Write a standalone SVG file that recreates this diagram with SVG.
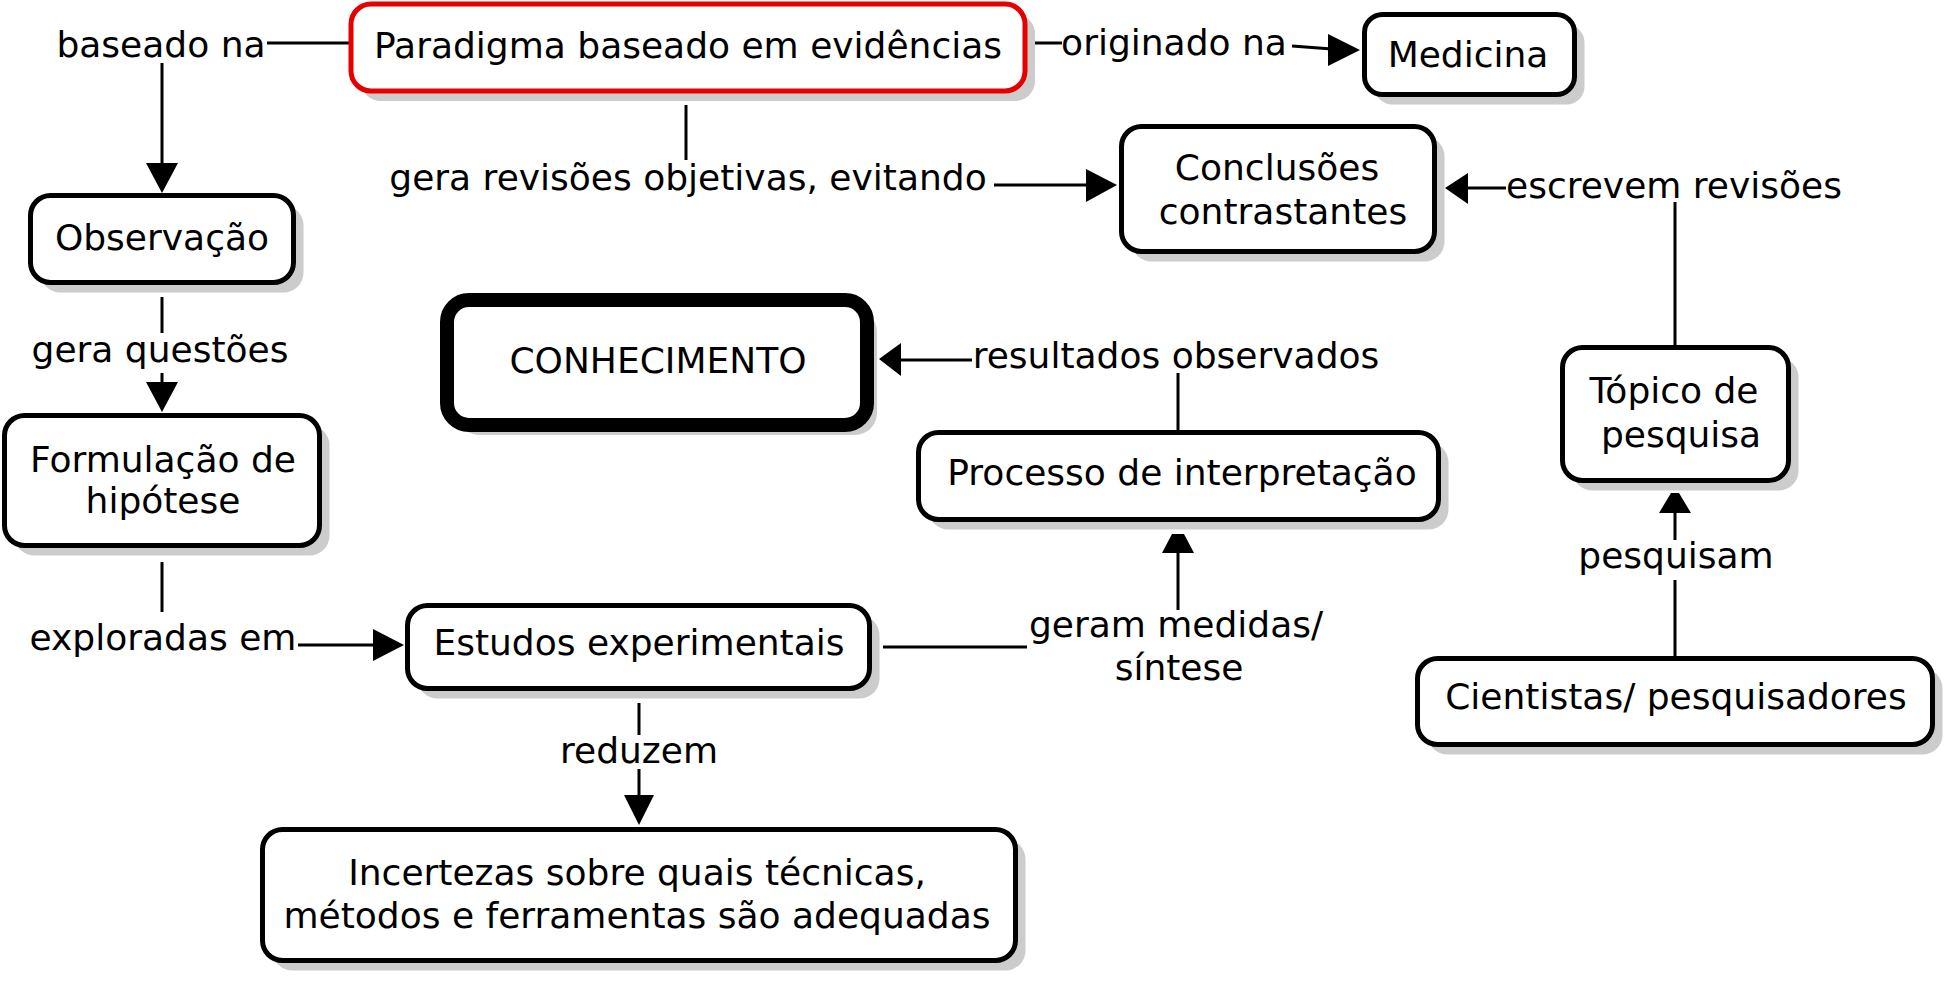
<svg xmlns="http://www.w3.org/2000/svg" width="1955" height="983" viewBox="0 0 1955 983">
<style>
text{font-family:"DejaVu Sans","Verdana","Liberation Sans",sans-serif;font-size:36px;fill:#000;text-anchor:middle}
.box{fill:#fff;stroke:#000;stroke-width:5}
.sh{fill:#cccccc;stroke:none}
.ln{stroke:#000;stroke-width:3;fill:none}
.ah{fill:#000;stroke:none}
</style>
<rect width="1955" height="983" fill="#fff"/>
<g id="connectors">
<line class="ln" x1="267" y1="43" x2="349" y2="43"/>
<line class="ln" x1="162" y1="63" x2="162" y2="165"/>
<polygon class="ah" points="146,163 178,163 162,193"/>
<line class="ln" x1="1029" y1="43" x2="1062" y2="43"/>
<line class="ln" x1="1292" y1="46" x2="1332" y2="49"/>
<polygon class="ah" points="1328,34 1328,66 1360,50"/>
<line class="ln" x1="686" y1="105" x2="686" y2="160"/>
<line class="ln" x1="994" y1="185" x2="1090" y2="185"/>
<polygon class="ah" points="1086,169 1086,202 1117,185"/>
<line class="ln" x1="162" y1="297" x2="162" y2="333"/>
<line class="ln" x1="162" y1="373" x2="162" y2="384"/>
<polygon class="ah" points="146,382 178,382 162,412"/>
<line class="ln" x1="162" y1="562" x2="162" y2="612"/>
<line class="ln" x1="298" y1="645" x2="376" y2="645"/>
<polygon class="ah" points="373,629 373,661 404,645"/>
<line class="ln" x1="883" y1="647" x2="1027" y2="647"/>
<line class="ln" x1="1178" y1="551" x2="1178" y2="610"/>
<polygon class="ah" points="1172,534 1184,534 1194,553 1162,553"/>
<line class="ln" x1="1178" y1="373" x2="1178" y2="432"/>
<line class="ln" x1="899" y1="360" x2="972" y2="360"/>
<polygon class="ah" points="879,359 901,343 901,376"/>
<line class="ln" x1="639" y1="703" x2="639" y2="735"/>
<line class="ln" x1="639" y1="769" x2="639" y2="797"/>
<polygon class="ah" points="624,795 654,795 639,825"/>
<line class="ln" x1="1675" y1="580" x2="1675" y2="658"/>
<line class="ln" x1="1675" y1="511" x2="1675" y2="540"/>
<polygon class="ah" points="1671,493 1679,493 1691,513 1659,513"/>
<line class="ln" x1="1675" y1="202" x2="1675" y2="347"/>
<line class="ln" x1="1466" y1="188" x2="1506" y2="188"/>
<polygon class="ah" points="1445,188 1468,173 1468,204"/>
</g>
<g id="labels">
<text x="161" y="57">baseado na</text>
<text x="1174" y="55">originado na</text>
<text x="688" y="190">gera revisões objetivas, evitando</text>
<text x="1674" y="198">escrevem revisões</text>
<text x="160" y="362">gera questões</text>
<text x="1176" y="368">resultados observados</text>
<text x="163" y="650">exploradas em</text>
<text x="1176" y="637">geram medidas/</text>
<text x="1179" y="680">síntese</text>
<text x="1676" y="568">pesquisam</text>
<text x="639" y="763">reduzem</text>
</g>
<g id="node-paradigma">
<rect class="sh" x="361" y="14" width="674" height="87" rx="20"/>
<rect class="box" x="351" y="4" width="674" height="87" rx="20" style="stroke:#e60000;stroke-width:5"/>
<text x="688" y="58">Paradigma baseado em evidências</text>
</g>
<g id="node-medicina">
<rect class="sh" x="1374.5" y="24.5" width="210" height="80" rx="18"/>
<rect class="box" x="1364.5" y="14.5" width="210" height="80" rx="18"/>
<text x="1468" y="67">Medicina</text>
</g>
<g id="node-observacao">
<rect class="sh" x="40.5" y="205.5" width="263" height="87" rx="20"/>
<rect class="box" x="30.5" y="195.5" width="263" height="87" rx="20"/>
<text x="162" y="250">Observação</text>
</g>
<g id="node-conclusoes">
<rect class="sh" x="1131.5" y="136.5" width="313" height="125" rx="20"/>
<rect class="box" x="1121.5" y="126.5" width="313" height="125" rx="20"/>
<text x="1277" y="180">Conclusões</text>
<text x="1283" y="224">contrastantes</text>
</g>
<g id="node-conhecimento">
<rect class="sh" x="457" y="310" width="420" height="125" rx="22"/>
<rect class="box" x="447" y="300" width="420" height="125" rx="22" style="stroke-width:14"/>
<text x="658" y="373">CONHECIMENTO</text>
</g>
<g id="node-formulacao">
<rect class="sh" x="14.5" y="425.5" width="315" height="130" rx="20"/>
<rect class="box" x="4.5" y="415.5" width="315" height="130" rx="20"/>
<text x="163" y="472">Formulação de</text>
<text x="163" y="513">hipótese</text>
</g>
<g id="node-processo">
<rect class="sh" x="928.5" y="442.5" width="520" height="87" rx="20"/>
<rect class="box" x="918.5" y="432.5" width="520" height="87" rx="20"/>
<text x="1182" y="485">Processo de interpretação</text>
</g>
<g id="node-topico">
<rect class="sh" x="1572.5" y="357.5" width="226" height="133" rx="20"/>
<rect class="box" x="1562.5" y="347.5" width="226" height="133" rx="20"/>
<text x="1674" y="403">Tópico de</text>
<text x="1681" y="447">pesquisa</text>
</g>
<g id="node-estudos">
<rect class="sh" x="417.5" y="615.5" width="462" height="83" rx="20"/>
<rect class="box" x="407.5" y="605.5" width="462" height="83" rx="20"/>
<text x="639" y="655">Estudos experimentais</text>
</g>
<g id="node-cientistas">
<rect class="sh" x="1427.5" y="668.5" width="515" height="86" rx="20"/>
<rect class="box" x="1417.5" y="658.5" width="515" height="86" rx="20"/>
<text x="1676" y="709">Cientistas/ pesquisadores</text>
</g>
<g id="node-incertezas">
<rect class="sh" x="272.5" y="839.5" width="753" height="131" rx="20"/>
<rect class="box" x="262.5" y="829.5" width="753" height="131" rx="20"/>
<text x="637" y="885">Incertezas sobre quais técnicas,</text>
<text x="637" y="928">métodos e ferramentas são adequadas</text>
</g>
</svg>
